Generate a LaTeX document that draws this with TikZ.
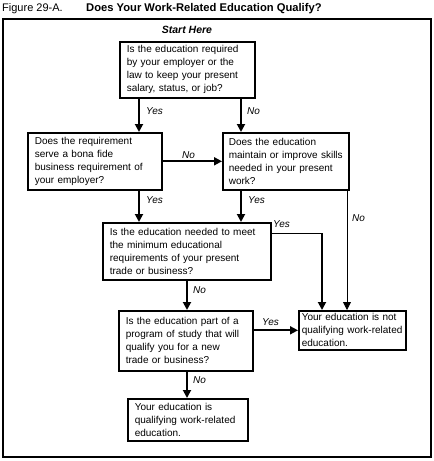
\documentclass[tikz,border=0pt]{standalone}
\usepackage{fontspec}
\setmainfont{Liberation Sans}
\usepackage{tikz}
\usetikzlibrary{arrows.meta}

\begin{document}
\begin{tikzpicture}[x=1pt, y=-1pt,
	qbox/.style={draw, line width=1.6pt, anchor=north west, align=left, inner xsep=7pt, inner ysep=0pt, font=\fontsize{10}{13}\selectfont},
	arr/.style={line width=1.8pt, -{Triangle[length=8pt, width=8pt]}},
	thinarr/.style={line width=0.8pt, -{Triangle[length=8pt, width=8pt]}},
	lbl/.style={font=\fontsize{10}{11}\selectfont\itshape, anchor=west, inner sep=0}
]
\useasboundingbox (0,0) rectangle (434,461);
%title and frame
\node[anchor=base west, inner sep=0, font=\fontsize{11}{12}\selectfont] (fig) at (2,11) {Figure 29-A.};
\node[anchor=base west, inner sep=0, font=\fontsize{11.2}{12}\selectfont\bfseries] (title) at (86,11) {Does Your Work-Related Education Qualify?};
\draw[line width=1.6pt] (3,19) rectangle (431,457);
\node[font=\fontsize{10.5}{11}\selectfont\bfseries\itshape, inner sep=0] (start) at (187,30) {Start Here};

\node[qbox, text width=121pt, minimum height=56pt] (q1) at (119,41) {Is the education required\\by your employer or the\\law to keep your present\\salary, status, or job?};
\node[qbox, text width=120pt, minimum height=57pt] (q2) at (27,132) {Does the requirement\\serve a bona fide\\business requirement of\\your employer?};
\node[qbox, inner xsep=6pt, text width=114pt, minimum height=57pt] (q3) at (222,132) {Does the education\\maintain or improve skills\\needed in your present\\work?};
\node[qbox, text width=154pt, minimum height=57pt] (q4) at (102,222) {Is the education needed to meet\\the minimum educational\\requirements of your present\\trade or business?};
\node[qbox, text width=120pt, minimum height=60pt] (q5) at (118,310) {Is the education part of a\\program of study that will\\qualify you for a new\\trade or business?};
\node[qbox, inner xsep=3pt, text width=101pt, minimum height=39pt] (notq) at (298,310) {Your education is not\\qualifying work-related\\education.};
\node[qbox, text width=106pt, minimum height=42pt] (qual) at (127,398) {Your education is\\qualifying work-related\\education.};

\coordinate (xl) at (139,0);
\coordinate (xr) at (241,0);
\coordinate (xm) at (187,0);
\coordinate (xy) at (322,0);
\coordinate (xn) at (347,0);
\coordinate (yy) at (0,233);

\draw[arr] (xl |- q1.south) -- (xl |- q2.north);
\draw[arr] (xr |- q1.south) -- (xr |- q3.north);
\draw[arr] (q2.east) -- (q3.west);
\draw[arr] (xl |- q2.south) -- (xl |- q4.north);
\draw[arr] (xr |- q3.south) -- (xr |- q4.north);
\draw[thinarr] (xn |- q3.south) -- (xn |- notq.north);
\draw[line width=0.8pt] (q4.east |- yy) -- (xy |- yy);
\draw[arr] (xy |- yy) -- (xy |- notq.north);
\draw[arr] (xm |- q4.south) -- (xm |- q5.north);
\draw[arr] (q5.east |- notq.west) -- (notq.west);
\draw[arr] (xm |- q5.south) -- (xm |- qual.north);

\node[lbl] (yes1) at (146,111) {Yes};
\node[lbl] (no1) at (247,111) {No};
\node[lbl] (no2) at (182,155) {No};
\node[lbl] (yes2) at (146,200) {Yes};
\node[lbl] (yes3) at (248,200) {Yes};
\node[lbl] (no3) at (352,218) {No};
\node[lbl] (yes4) at (273,224) {Yes};
\node[lbl] (no4) at (193,290) {No};
\node[lbl] (yes5) at (262,322) {Yes};
\node[lbl] (no5) at (193,380) {No};
\end{tikzpicture}
\end{document}
